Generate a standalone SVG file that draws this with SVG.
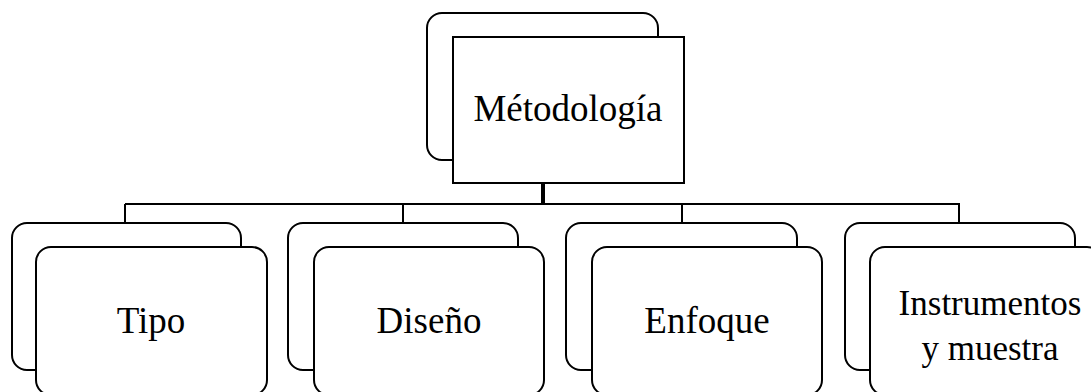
<svg xmlns="http://www.w3.org/2000/svg" width="1091" height="392" viewBox="0 0 1091 392">
<style>
.bk{fill:#fff;stroke:#000;stroke-width:2}
.fr{fill:#fff;stroke:#000;stroke-width:2}
.ln{fill:none;stroke:#000;stroke-width:2}
.t{font-family:"Liberation Serif","Times New Roman",serif;font-size:37px;fill:#000;text-anchor:middle}
</style>
<rect width="1091" height="392" fill="#fff"/>
<g id="connectors">
<line class="ln" x1="543" y1="183" x2="543" y2="204" style="stroke-width:4"/>
<line class="ln" x1="125" y1="204" x2="960" y2="204"/>
<line class="ln" x1="125" y1="204" x2="125" y2="223"/>
<line class="ln" x1="403" y1="204" x2="403" y2="223"/>
<line class="ln" x1="682" y1="204" x2="682" y2="223"/>
<line class="ln" x1="959" y1="204" x2="959" y2="223"/>
</g>
<g id="node-metodologia">
<rect class="bk" x="427" y="13" width="231" height="147" rx="15"/>
<rect class="fr" x="453" y="37" width="231" height="146"/>
<text class="t" x="568" y="121">Métodología</text>
</g>
<g id="node-tipo">
<rect class="bk" x="12" y="223" width="229" height="147" rx="15"/>
<rect class="fr" x="36" y="247" width="231" height="148" rx="15"/>
<text class="t" x="151" y="333">Tipo</text>
</g>
<g id="node-diseno">
<rect class="bk" x="288" y="223" width="230" height="147" rx="15"/>
<rect class="fr" x="314" y="247" width="230" height="148" rx="15"/>
<text class="t" x="429" y="333">Diseño</text>
</g>
<g id="node-enfoque">
<rect class="bk" x="566" y="223" width="231" height="147" rx="15"/>
<rect class="fr" x="592" y="247" width="230" height="148" rx="15"/>
<text class="t" x="707" y="333">Enfoque</text>
</g>
<g id="node-instrumentos">
<rect class="bk" x="845" y="223" width="230" height="147" rx="15"/>
<rect class="fr" x="870" y="247" width="232" height="148" rx="15"/>
<text class="t" x="990" y="315" style="font-size:35px">Instrumentos</text>
<text class="t" x="990" y="360" style="font-size:35px">y muestra</text>
</g>
</svg>
